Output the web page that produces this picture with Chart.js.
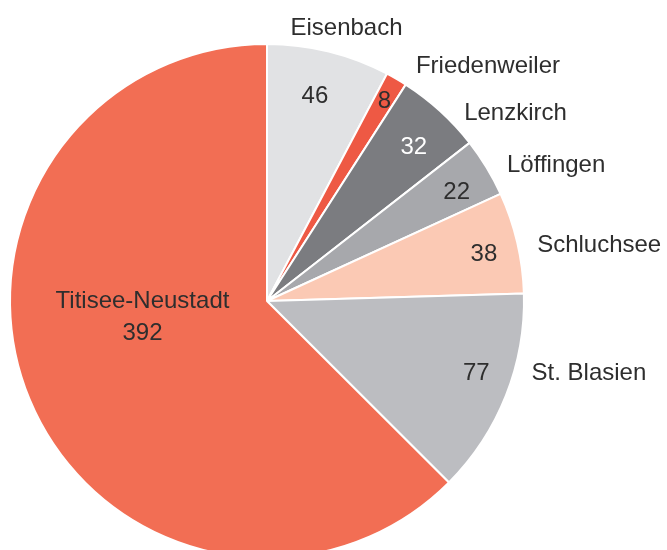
<!DOCTYPE html>
<html>
<head>
<meta charset="utf-8">
<script src="https://cdn.jsdelivr.net/npm/chart.js@4"></script>
<style>
  html, body { margin: 0; padding: 0; background: #fff; overflow: hidden; }
</style>
</head>
<body>
<canvas id="myChart" width="667" height="600"></canvas>
<script>
const orte = ["Eisenbach", "Friedenweiler", "Lenzkirch", "Löffingen", "Schluchsee", "St. Blasien", "Titisee-Neustadt"];
// printed numbers
const anzahl = ["46", "8", "32", "22", "38", "77", "392"];
// slice sizes as drawn in the picture (the big slice is drawn smaller than its printed 392)
const sliceWerte = [46, 8, 32, 22, 38, 77, 372];
const farben = ["#e1e2e4", "#ee5944", "#7b7c80", "#a7a8ac", "#fbc9b4", "#bcbdc1", "#f26e54"];
const textFarben = ["#2e2e2e", "#2e2e2e", "#fff", "#2e2e2e", "#2e2e2e", "#2e2e2e", "#2e2e2e"];

// per slice: [radius factor, angle shift in degrees, align]
const nameTweaks = [
  [1.108, 2.3, "center"],
  [1.086, 2.0, "left"],
  [1.062, 3.9, "left"],
  [1.074, 1.7, "left"],
  [1.074, 1.3, "left"],
  [1.066, -6.6, "left"],
  null,
];
const valueTweaks = [
  [0.822, -0.8],
  [0.903, 0.15],
  [0.83, 1.15],
  [0.853, 1.2],
  [0.864, 0.8],
  [0.86, -2.9],
  [0.488, 15.7],
];

const pieLabels = {
  id: "pieLabels",
  afterDatasetsDraw(chart) {
    const ctx = chart.ctx;
    const meta = chart.getDatasetMeta(0);
    ctx.save();
    ctx.font = "24px 'Liberation Sans', Arial, sans-serif";
    ctx.textBaseline = "middle";
    meta.data.forEach((arc, i) => {
      const p = arc.getProps(["x", "y", "startAngle", "endAngle", "outerRadius"], true);
      const mid = (p.startAngle + p.endAngle) / 2;
      const at = (rf, deg) => {
        const a = mid + (deg * Math.PI) / 180;
        return [p.x + Math.cos(a) * p.outerRadius * rf, p.y + Math.sin(a) * p.outerRadius * rf];
      };
      const vt = valueTweaks[i];
      const [vx, vy] = at(vt[0], vt[1]);
      ctx.fillStyle = textFarben[i];
      ctx.textAlign = "center";
      if (nameTweaks[i]) {
        ctx.fillText(anzahl[i], vx, vy + 1);
        const nt = nameTweaks[i];
        const [nx, ny] = at(nt[0], nt[1]);
        ctx.fillStyle = "#2e2e2e";
        ctx.textAlign = nt[2];
        ctx.fillText(orte[i], nx, ny + 1);
      } else {
        ctx.fillText(orte[i], vx, vy - 15);
        ctx.fillText(anzahl[i], vx, vy + 17);
      }
    });
    ctx.restore();
  },
};

new Chart(document.getElementById("myChart"), {
  type: "pie",
  data: {
    labels: orte,
    datasets: [
      {
        data: sliceWerte,
        backgroundColor: farben,
        borderColor: "#ffffff",
        borderWidth: 2,
      },
    ],
  },
  options: {
    responsive: false,
    animation: false,
    layout: { padding: { left: 9, right: 142, top: 43, bottom: 41 } },
    plugins: {
      legend: { display: false },
      tooltip: { enabled: false },
    },
  },
  plugins: [pieLabels],
});
</script>
</body>
</html>
